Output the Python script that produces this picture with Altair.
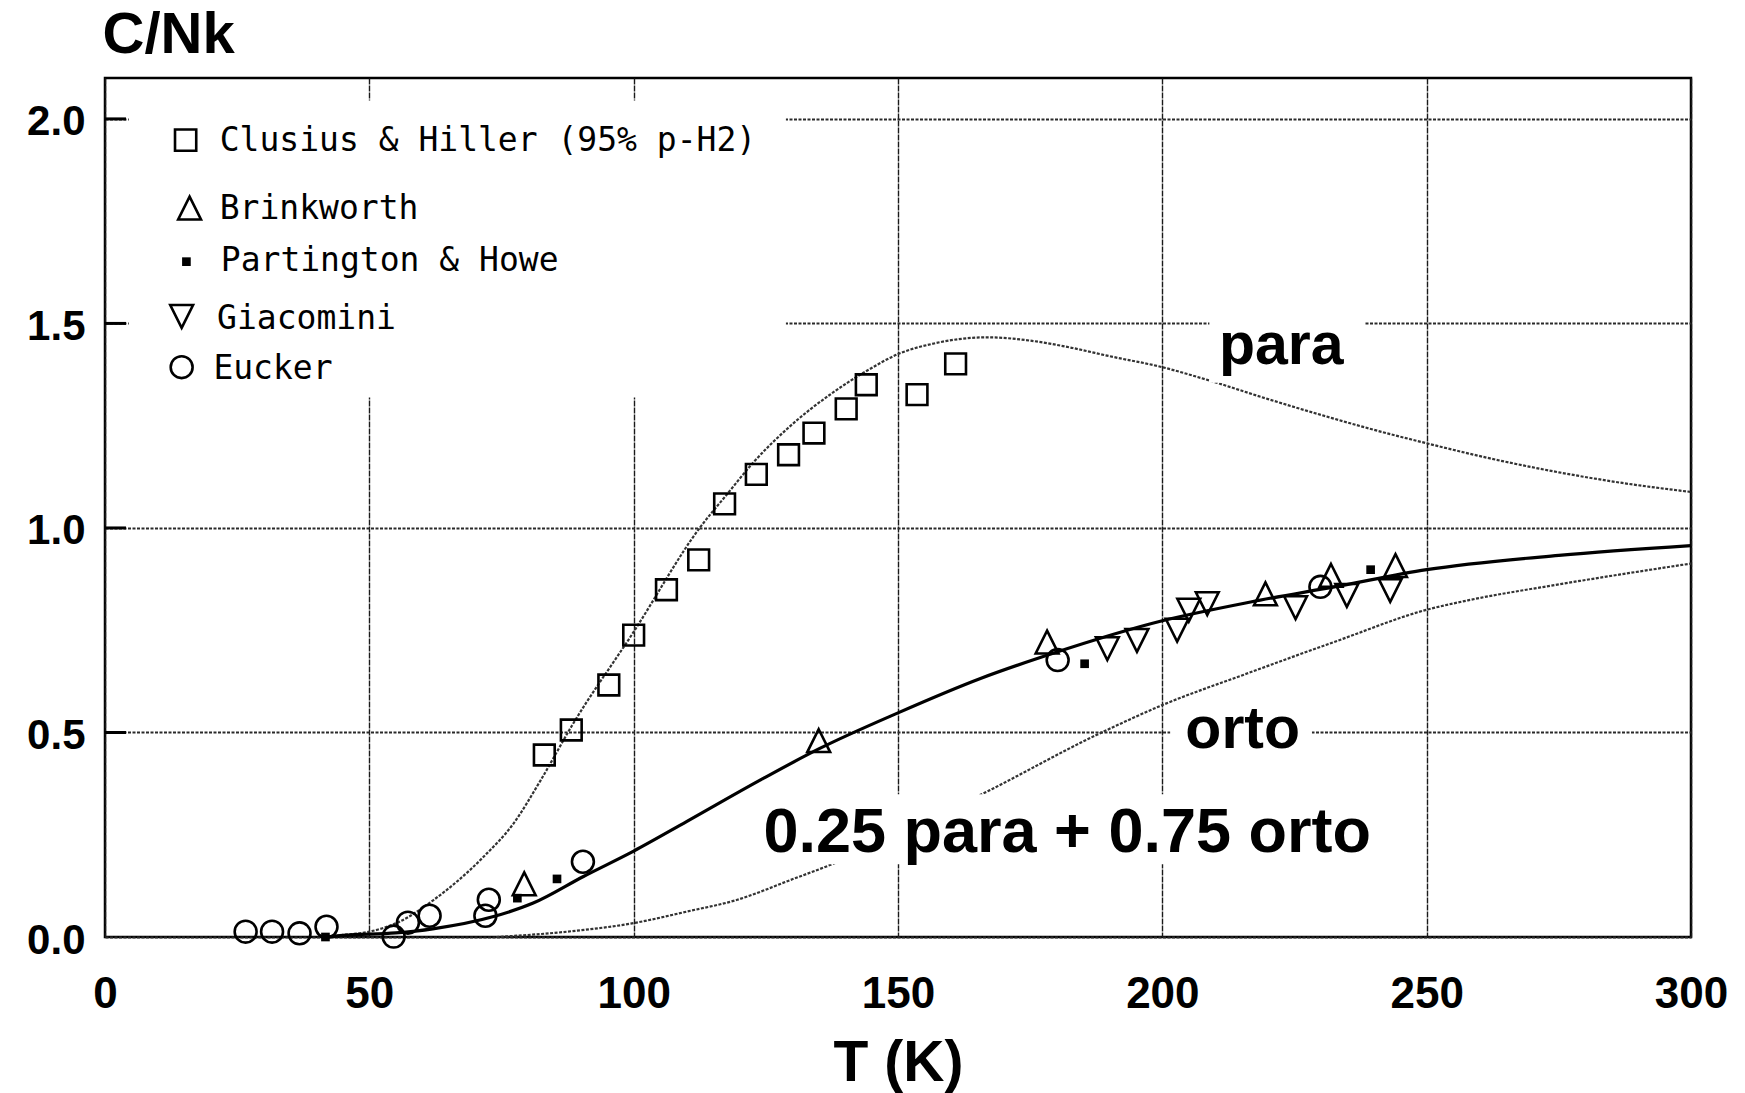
import altair as alt
import pandas as pd

# ---------------- data ----------------
# Clusius & Hiller (95% p-H2)  (open squares)
clusius_T = [83.1, 88.2, 95.3, 100.0, 106.2, 112.3, 117.2, 123.2, 129.3, 134.1, 140.2, 144.0, 153.6, 160.9]
clusius_C = [0.445, 0.506, 0.616, 0.738, 0.849, 0.922, 1.059, 1.131, 1.179, 1.232, 1.291, 1.350, 1.326, 1.401]
# Brinkworth (open triangles up)
brink_T = [79.3, 135.0, 178.2, 219.5, 231.9, 244.1]
brink_C = [0.130, 0.480, 0.721, 0.839, 0.884, 0.908]
# Partington & Howe (small filled squares)
part_T = [41.7, 78.0, 85.5, 185.3, 239.4]
part_C = [0.000, 0.095, 0.142, 0.668, 0.898]
# Giacomini (open triangles down)
giac_T = [189.6, 195.2, 202.8, 205.0, 208.5, 225.2, 234.9, 243.1]
giac_C = [0.705, 0.725, 0.750, 0.799, 0.815, 0.805, 0.835, 0.847]
# Eucker (open circles)
euck_T = [26.6, 31.6, 36.8, 41.9, 54.6, 57.3, 61.4, 71.95, 72.6, 90.4, 180.2, 229.9]
euck_C = [0.013, 0.013, 0.009, 0.025, 0.001, 0.035, 0.052, 0.052, 0.091, 0.184, 0.677, 0.856]

# theoretical curves
para_T = [42, 45, 50, 55.8, 62.2, 71.6, 77.3, 82.4, 88.2, 100, 112.6, 117.7, 122.7, 129, 137.8,
          144.2, 150, 156.8, 166.9, 175, 183, 190, 200, 209, 220, 231.7, 240, 250, 262, 275, 287, 300]
para_C = [0, 0.005, 0.013, 0.038, 0.091, 0.196, 0.278, 0.383, 0.514, 0.746, 1.002, 1.083, 1.161, 1.242, 1.332,
          1.385, 1.425, 1.451, 1.466, 1.458, 1.44, 1.42, 1.393, 1.36, 1.315, 1.27, 1.24, 1.207, 1.17, 1.136, 1.11, 1.088]
mix_T = [42, 45, 55, 62, 73.5, 81, 90.5, 100, 110, 124, 135.2, 150, 165.6, 179.2, 200, 216.7, 233, 250, 275, 300]
mix_C = [0, 0.004, 0.010, 0.020, 0.050, 0.083, 0.148, 0.210, 0.282, 0.384, 0.461, 0.548, 0.632, 0.693,
         0.773, 0.819, 0.857, 0.898, 0.933, 0.957]
orto_T = [74, 87.4, 100, 110, 119.6, 130, 137.9, 150, 165.5, 187.4, 200, 216, 233.3, 250, 257.8, 275, 300]
orto_C = [0, 0.013, 0.034, 0.062, 0.091, 0.141, 0.180, 0.253, 0.347, 0.493, 0.567, 0.644, 0.725, 0.800,
          0.823, 0.862, 0.913]

x_ticks = [0, 50, 100, 150, 200, 250, 300]
y_ticks = [0.0, 0.5, 1.0, 1.5, 2.0]

legend_labels = ["Clusius & Hiller (95% p-H2)", "Brinkworth", "Partington & Howe", "Giacomini", "Eucker"]
curve_labels = ["para", "orto", "0.25 para + 0.75 orto"]

# ---------------- layout (annotation placement) ----------------
legend_sym_T = [15.25, 16.0, 15.4, 14.5, 14.5]
legend_sym_C = [1.948, 1.782, 1.651, 1.517, 1.393]
legend_txt_T = [21.7, 21.7, 21.9, 21.2, 20.5]
legend_txt_C = [1.922, 1.755, 1.627, 1.486, 1.364]
label_T = [222.5, 215.2, 182.0]
label_C = [1.401, 0.461, 0.2085]
label_size = [59, 59, 63]
# white boxes: legend, para, orto, mixture label
box_T1 = [4.5, 208.9, 201.5, 122.0]
box_T2 = [128.8, 238.2, 228.3, 242.0]
box_C1 = [1.319, 1.355, 0.445, 0.178]
box_C2 = [2.045, 1.530, 0.565, 0.349]

FONT = "Liberation Sans"

x_scale = alt.Scale(domain=[0, 300], nice=False, zero=False)
y_scale = alt.Scale(domain=[0, 2.1], nice=False, zero=False)

x_axis = alt.Axis(values=x_ticks, format="d", title="T (K)", grid=True, ticks=False, tickSize=0,
                  domain=False, labelFont=FONT, labelFontSize=44, labelFontWeight="bold",
                  labelColor="black", labelPadding=35, labelFlush=False, labelOverlap=False,
                  gridColor="#1a1a1a", gridWidth=1.4, gridDash=[6, 1], gridOpacity=1,
                  titleFont=FONT, titleFontSize=57, titleFontWeight="bold", titleColor="black",
                  titleBaseline="alphabetic", titleY=143)
y_axis = alt.Axis(values=y_ticks, format=".1f", title="C/Nk", grid=True, ticks=False, tickSize=0,
                  domain=False, labelFont=FONT, labelFontSize=42, labelFontWeight="bold",
                  labelColor="black", labelPadding=20, labelFlush=False, labelOverlap=False,
                  labelBaseline="middle", labelOffset=3,
                  gridColor="#2a2a2a", gridWidth=1.9, gridDash=[3, 1.5], gridOpacity=1,
                  titleFont=FONT, titleFontSize=58, titleFontWeight="bold", titleColor="black",
                  titleAngle=0, titleAlign="left", titleBaseline="alphabetic", titleX=-3, titleY=-26)


def X(f="T"):
    return alt.X(f, type="quantitative", scale=x_scale, axis=x_axis)


def Y(f="C"):
    return alt.Y(f, type="quantitative", scale=y_scale, axis=y_axis)


def df(T, C):
    return pd.DataFrame({"T": T, "C": C})


tri_up = "M0,-1L1,1L-1,1Z"
tri_dn = "M0,1L1,-1L-1,-1Z"

# curves
para_line = alt.Chart(df(para_T, para_C)).mark_line(
    interpolate="monotone", color="#333333", strokeWidth=2.2, strokeDash=[3, 1.5]
).encode(x=X(), y=Y())
orto_line = alt.Chart(df(orto_T, orto_C)).mark_line(
    interpolate="monotone", color="#333333", strokeWidth=2.2, strokeDash=[3, 1.5]
).encode(x=X(), y=Y())
mix_line = alt.Chart(df(mix_T, mix_C)).mark_line(
    interpolate="monotone", color="black", strokeWidth=3.2
).encode(x=X(), y=Y())

# white boxes behind labels and legend
boxes = alt.Chart(pd.DataFrame({"T": box_T1, "T2": box_T2, "C": box_C1, "C2": box_C2})).mark_rect(
    color="white", opacity=1
).encode(x=X(), x2="T2", y=Y(), y2="C2")

# inward ticks on the left frame
ticks = alt.Chart(pd.DataFrame({"C": y_ticks[1:]})).mark_rule(color="black", strokeWidth=3).encode(
    y=Y(), x=alt.value(0), x2=alt.value(21)
)


def open_pts(T, C, shape, size):
    return alt.Chart(df(T, C)).mark_point(
        shape=shape, size=size, filled=False, stroke="black", strokeWidth=2.6, opacity=1
    ).encode(x=X(), y=Y())


sq = open_pts(clusius_T, clusius_C, "square", 430)
tu = open_pts(brink_T, brink_C, tri_up, 520)
td = open_pts(giac_T, giac_C, tri_dn, 520)
ci = open_pts(euck_T, euck_C, "circle", 480)
fs = alt.Chart(df(part_T, part_C)).mark_point(
    shape="square", size=75, filled=True, color="black", opacity=1
).encode(x=X(), y=Y())

labels = alt.Chart(pd.DataFrame({"T": label_T, "C": label_C, "txt": curve_labels, "s": label_size})).mark_text(
    font=FONT, fontWeight="bold", align="center", baseline="alphabetic", color="black"
).encode(x=X(), y=Y(), text="txt:N", size=alt.Size("s:Q", scale=None, legend=None))

# legend (manual)
lg_sq = open_pts([legend_sym_T[0]], [legend_sym_C[0]], "square", 450)
lg_tu = open_pts([legend_sym_T[1]], [legend_sym_C[1]], tri_up, 520)
lg_fs = alt.Chart(df([legend_sym_T[2]], [legend_sym_C[2]])).mark_point(
    shape="square", size=75, filled=True, color="black", opacity=1
).encode(x=X(), y=Y())
lg_td = open_pts([legend_sym_T[3]], [legend_sym_C[3]], tri_dn, 520)
lg_ci = open_pts([legend_sym_T[4]], [legend_sym_C[4]], "circle", 480)
lg_txt = alt.Chart(pd.DataFrame({"T": legend_txt_T, "C": legend_txt_C, "txt": legend_labels})).mark_text(
    font="DejaVu Sans Mono", fontSize=33, align="left", baseline="alphabetic", color="black"
).encode(x=X(), y=Y(), text="txt:N")

chart = alt.layer(
    para_line, orto_line, mix_line, boxes, ticks, sq, tu, td, ci, fs, labels,
    lg_sq, lg_tu, lg_fs, lg_td, lg_ci, lg_txt
).properties(
    width=1586, height=859,
    padding={"left": 105, "top": 78, "right": 54, "bottom": 156},
    autosize=alt.AutoSizeParams(type="none"),
    background="white",
).configure_view(stroke="black", strokeWidth=2.5)

chart.save("out.html", embed_options={"renderer": "svg", "actions": False})
